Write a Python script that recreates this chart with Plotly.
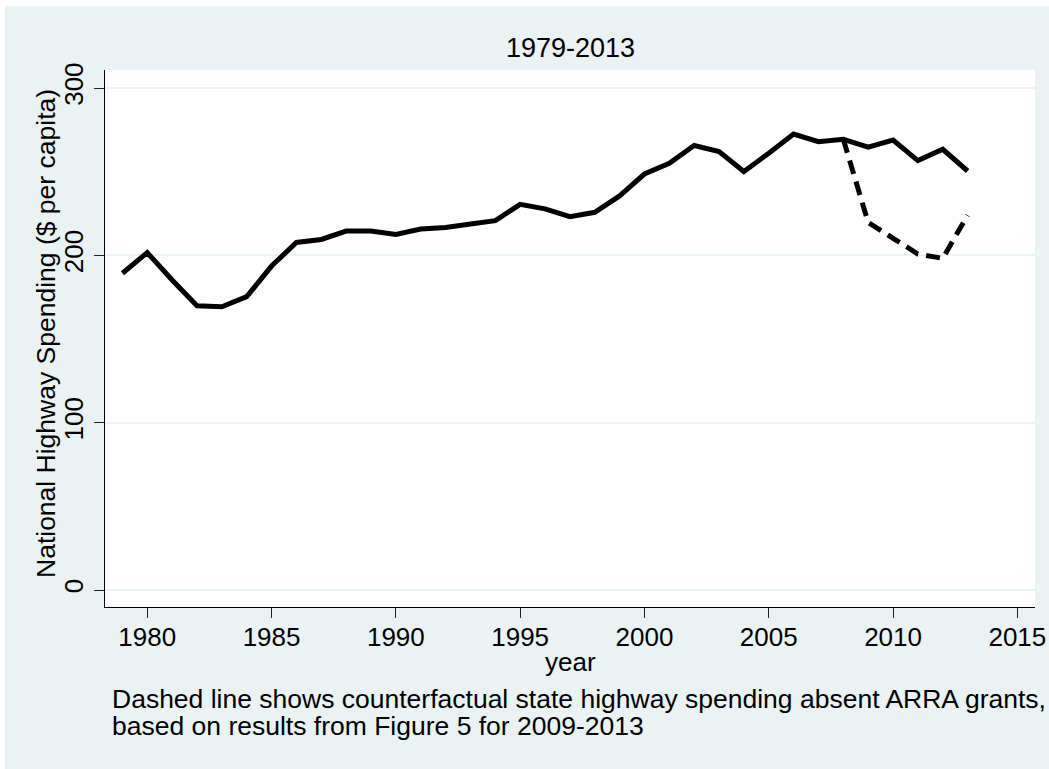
import plotly.graph_objects as go

years = [1979, 1980, 1981, 1982, 1983, 1984, 1985, 1986, 1987, 1988, 1989, 1990,
         1991, 1992, 1993, 1994, 1995, 1996, 1997, 1998, 1999, 2000, 2001, 2002,
         2003, 2004, 2005, 2006, 2007, 2008, 2009, 2010, 2011, 2012, 2013]
spending = [189.3, 201.6, 185.3, 169.9, 169.3, 175.3, 193.6, 207.7, 209.5, 214.5,
            214.5, 212.5, 215.7, 216.7, 218.7, 220.7, 230.5, 227.8, 223.1, 225.7,
            235.5, 248.6, 255.0, 265.6, 262.0, 250.1, 261.0, 272.5, 267.9, 269.3,
            264.6, 268.9, 256.6, 263.4, 250.4]

cf_years = [2008, 2009, 2010, 2011, 2012, 2013]
cf_spending = [269.3, 219.6, 210.2, 200.8, 198.2, 224.0]

x_ticks = [1980, 1985, 1990, 1995, 2000, 2005, 2010, 2015]
y_ticks = [0, 100, 200, 300]

title_text = "1979-2013"
x_title = "year"
y_title = "National Highway Spending ($ per capita)"
note_lines = ["Dashed line shows counterfactual state highway spending absent ARRA grants,",
              "based on results from Figure 5 for 2009-2013"]

FONT = "Liberation Sans, Arial, Helvetica, sans-serif"
BG = "#EAF2F3"

fig = go.Figure()
fig.add_trace(go.Scatter(x=cf_years, y=cf_spending, mode="lines",
                         line=dict(color="black", width=5, dash="14px,8px"),
                         showlegend=False, hoverinfo="skip"))
fig.add_trace(go.Scatter(x=years, y=spending, mode="lines",
                         line=dict(color="black", width=5),
                         showlegend=False, hoverinfo="skip"))

L, R, T, B = 105, 14, 70, 162
W, H = 1049, 769
pw = W - L - R
ph = H - T - B

def px_x(p):
    return (p - L) / pw

def px_y(p):
    return (H - B - p) / ph

fig.update_layout(
    width=W, height=H, autosize=False,
    margin=dict(l=L, r=R, t=T, b=B, pad=0, autoexpand=False),
    paper_bgcolor=BG,
    plot_bgcolor="white",
    font=dict(family=FONT, size=26, color="black"),
    showlegend=False,
    shapes=[
        dict(type="rect", xref="paper", yref="paper",
             x0=px_x(-5), x1=px_x(5), y0=px_y(H + 5), y1=px_y(-5),
             fillcolor="white", line=dict(width=0), layer="below"),
        dict(type="rect", xref="paper", yref="paper",
             x0=px_x(-5), x1=px_x(W + 5), y0=px_y(6), y1=px_y(-5),
             fillcolor="white", line=dict(width=0), layer="below"),
        dict(type="rect", xref="paper", yref="paper",
             x0=0, x1=1, y0=0, y1=1,
             fillcolor="white", line=dict(width=0), layer="below"),
    ],
    xaxis=dict(
        range=[1978.30, 2015.71], tickvals=x_ticks, ticktext=[str(v) for v in x_ticks],
        showgrid=False, zeroline=False, automargin=False,
        showline=True, linecolor="black", linewidth=1.3,
        ticks="outside", ticklen=10, tickwidth=1.3, tickcolor="#222",
        tickfont=dict(family=FONT, size=26, color="black"),
        ticklabelstandoff=-3,
    ),
    yaxis=dict(
        range=[-10.16, 310.76], tickvals=y_ticks, ticktext=[str(v) for v in y_ticks],
        showgrid=True, gridcolor=BG, gridwidth=1.6, zeroline=False, automargin=False,
        showline=True, linecolor="black", linewidth=1.3,
        ticks="outside", ticklen=10, tickwidth=1.3, tickcolor="#222",
        tickangle=-90,
        tickfont=dict(family=FONT, size=26, color="black"),
    ),
    annotations=[
        dict(text=title_text, xref="paper", yref="paper", x=0.5, y=px_y(48),
             xanchor="center", yanchor="middle", showarrow=False,
             font=dict(family=FONT, size=27, color="black")),
        dict(text=x_title, xref="paper", yref="paper", x=0.5, y=px_y(662),
             xanchor="center", yanchor="middle", showarrow=False,
             font=dict(family=FONT, size=26, color="black")),
        dict(text=y_title, xref="paper", yref="paper", x=px_x(46), y=px_y(334),
             xanchor="center", yanchor="middle", showarrow=False, textangle=-90,
             font=dict(family=FONT, size=26.5, color="black")),
        dict(text=note_lines[0], xref="paper", yref="paper", x=px_x(110), y=px_y(699),
             xanchor="left", yanchor="middle", showarrow=False,
             font=dict(family=FONT, size=26.5, color="black")),
        dict(text=note_lines[1], xref="paper", yref="paper", x=px_x(110), y=px_y(725.7),
             xanchor="left", yanchor="middle", showarrow=False,
             font=dict(family=FONT, size=26.5, color="black")),
    ],
)

fig.write_html(
    "out.html",
    config={"displayModeBar": False, "responsive": False},
    post_script=("document.documentElement.style.overflow='hidden';"
                 "document.body.style.overflow='hidden';"
                 "document.body.style.margin='0';document.body.style.padding='0';"),
)
